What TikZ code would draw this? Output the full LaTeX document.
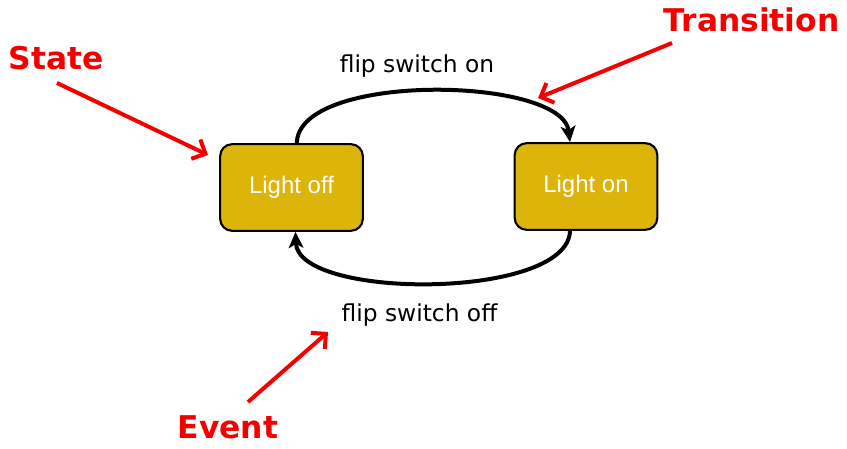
\documentclass[tikz,border=0pt]{standalone}
\usepackage{fontspec}
\setmainfont{DejaVu Sans}
\newfontfamily\arialfont{Liberation Sans}
\usetikzlibrary{arrows.meta}
\definecolor{boxfill}{RGB}{220,180,10}
\definecolor{callred}{RGB}{245,0,0}
\tikzset{
  statebox/.style={draw=black, line width=1.6pt, fill=boxfill, rounded corners=9pt,
    minimum width=107pt, minimum height=65pt, text=white, font=\arialfont\fontsize{18}{20}\selectfont},
  evlabel/.style={font=\fontsize{17.5}{20}\selectfont, anchor=base, inner sep=0pt},
  callout/.style={font=\bfseries\fontsize{23.5}{26}\selectfont, text=callred, anchor=base, inner sep=0pt},
  trans/.style={line width=3pt, -{Stealth[length=12pt,width=11pt,inset=3pt]}},
  pointer/.style={draw=callred, line width=3pt, -{Straight Barb[length=8pt,width=16pt]}}
}
\begin{document}
\begin{tikzpicture}[x=0.75pt,y=-0.75pt]
\useasboundingbox (0,0) rectangle (847,449);
\node[statebox] (off) at (291.5,187.5) {Light off};
\node[statebox] (on) at (586,186.5) {Light on};
\node[evlabel] (lon) at (417,73) {flip switch on};
\node[evlabel] (loff) at (419.5,321) {flip switch off};
\node[callout] (state) at (56,70) {State};
\node[callout] (transition) at (751.5,32) {Transition};
\node[callout] (event) at (228,438) {Event};
\coordinate (s1) at (57,83);
\coordinate (s2) at (208,155);
\coordinate (t1) at (672,43);
\coordinate (t2) at (538,98);
\coordinate (e1) at (248,402);
\coordinate (e2) at (328,332);
\draw[trans] ([xshift=4pt]off.north) .. controls (298,72) and (562,76) .. ([xshift=-12pt]on.north);
\draw[trans] ([xshift=-12pt]on.south) .. controls (568,300) and (298,300) .. ([xshift=3pt]off.south);
\draw[pointer] (s1) -- (s2);
\draw[pointer] (t1) -- (t2);
\draw[pointer] (e1) -- (e2);
\end{tikzpicture}
\end{document}
